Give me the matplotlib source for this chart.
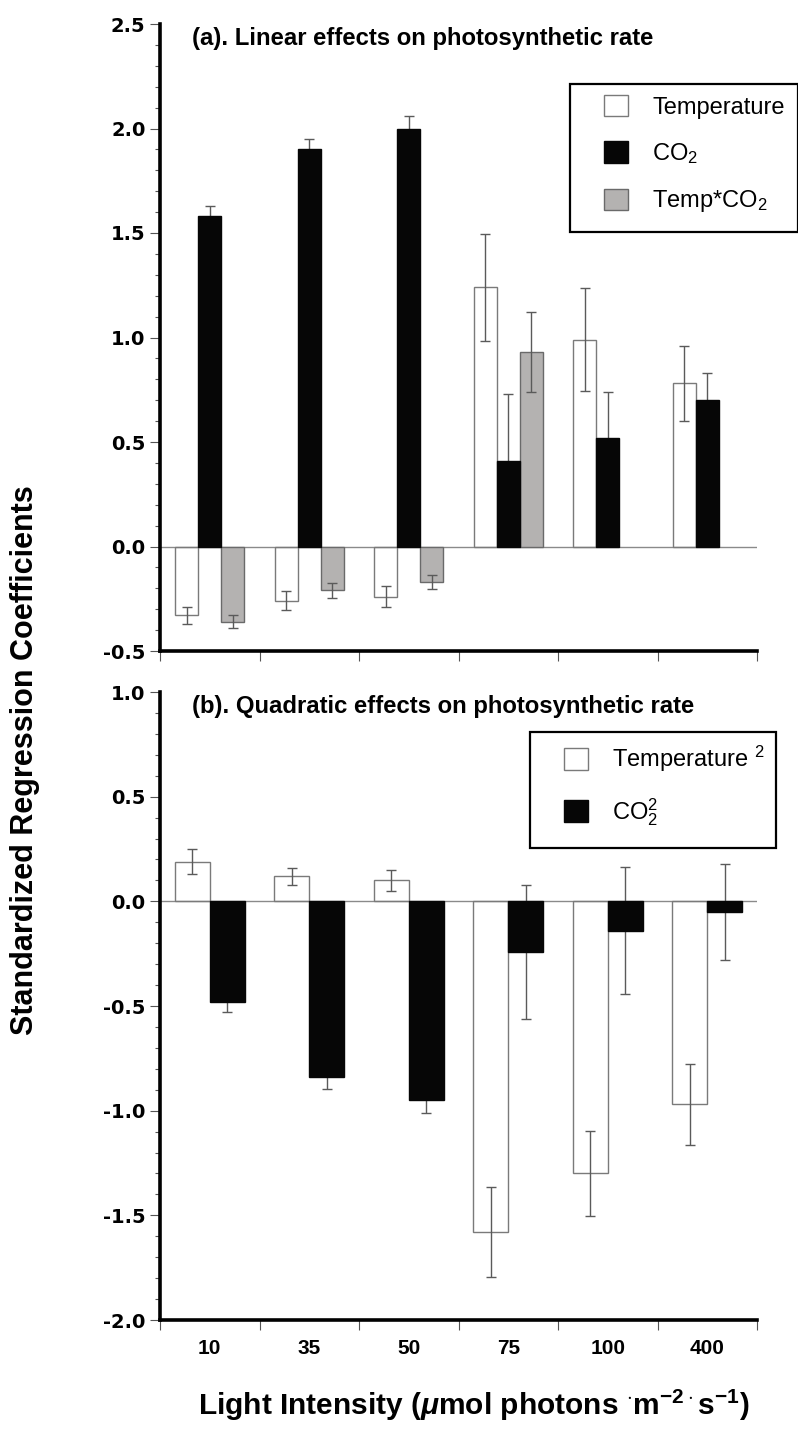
import numpy as np
import matplotlib
matplotlib.use('Agg')
import matplotlib.pyplot as plt
from matplotlib.patches import Patch, Rectangle
from matplotlib.ticker import MultipleLocator, FixedLocator, NullFormatter, FixedFormatter

# light intensities (umol photons m-2 s-1)
light = ['10', '35', '50', '75', '100', '400']

# (a) linear effects
temp_lin = [-0.33, -0.26, -0.24, 1.24, 0.99, 0.78]
temp_lin_err = [0.04, 0.045, 0.05, 0.255, 0.245, 0.18]
co2_lin = [1.58, 1.90, 2.00, 0.41, 0.52, 0.70]
co2_lin_err = [0.05, 0.05, 0.06, 0.32, 0.22, 0.13]
inter_lin = [-0.36, -0.21, -0.17, 0.93, np.nan, np.nan]
inter_lin_err = [0.03, 0.035, 0.035, 0.19, np.nan, np.nan]

# (b) quadratic effects
temp_quad = [0.19, 0.12, 0.10, -1.58, -1.30, -0.97]
temp_quad_err = [0.06, 0.04, 0.05, 0.215, 0.205, 0.195]
co2_quad = [-0.48, -0.84, -0.95, -0.24, -0.14, -0.05]
co2_quad_err = [0.05, 0.057, 0.06, 0.32, 0.305, 0.23]

plt.rcParams['font.family'] = ['Liberation Sans', 'DejaVu Sans']
plt.rcParams['mathtext.fontset'] = 'custom'
plt.rcParams['mathtext.rm'] = 'Liberation Sans:bold'
plt.rcParams['mathtext.it'] = 'Liberation Sans:bold:italic'
plt.rcParams['mathtext.bf'] = 'Liberation Sans:bold'
plt.rcParams['mathtext.sf'] = 'Liberation Sans'

W, H = 798, 1431
fig = plt.figure(figsize=(W / 100, H / 100), dpi=100)

def fx(px):
    return px / W

def fy(py):
    return 1 - py / H

left, right = 160, 757
ax1 = fig.add_axes([fx(left), fy(651), fx(right - left), fy(24) - fy(651)])
ax2 = fig.add_axes([fx(left), fy(1320), fx(right - left), fy(692) - fy(1320)])

x = np.arange(len(light))
BLACK = '#060606'
GRAY = '#b4b2b1'
ERR = '#5a5a5a'
ekw = dict(fmt='none', ecolor=ERR, elinewidth=1, capsize=3.5, capthick=1, zorder=3)

# panel (a)
w = 0.232
ax1.bar(x - w, temp_lin, w, facecolor='none', edgecolor='#7a7a7a', lw=1, zorder=2)
ax1.errorbar(x - w, temp_lin, yerr=temp_lin_err, **ekw)
ax1.bar(x, co2_lin, w, color=BLACK, edgecolor=BLACK, lw=1, zorder=4)
ax1.errorbar(x, co2_lin, yerr=co2_lin_err, **ekw)
ax1.bar(x + w, inter_lin, w, color=GRAY, edgecolor='#6a6a6a', lw=1, zorder=2)
ax1.errorbar(x + w, inter_lin, yerr=inter_lin_err, **ekw)
ax1.set_ylim(-0.5, 2.5)

# panel (b)
w2 = 0.35
ax2.bar(x - w2 / 2, temp_quad, w2, facecolor='none', edgecolor='#7a7a7a', lw=1, zorder=2)
ax2.errorbar(x - w2 / 2, temp_quad, yerr=temp_quad_err, **ekw)
ax2.bar(x + w2 / 2, co2_quad, w2, color=BLACK, edgecolor=BLACK, lw=1, zorder=4)
ax2.errorbar(x + w2 / 2, co2_quad, yerr=co2_quad_err, **ekw)
ax2.set_ylim(-2.0, 1.0)

for ax in (ax1, ax2):
    ax.set_xlim(-0.5, len(light) - 0.5)
    ax.axhline(0, color='#8a8a8a', lw=1, zorder=1)
    for s in ('top', 'right'):
        ax.spines[s].set_visible(False)
    for s in ('left', 'bottom'):
        ax.spines[s].set_linewidth(2.6)
        ax.spines[s].set_color('black')
    ax.yaxis.set_major_locator(MultipleLocator(0.5))
    ax.yaxis.set_minor_locator(MultipleLocator(0.1))
    ax.yaxis.set_major_formatter(plt.FuncFormatter(lambda v, p: '%.1f' % v))
    ax.tick_params(axis='y', which='major', length=7.5, width=0.8, color='#555',
                   labelsize=14, pad=3)
    ax.tick_params(axis='y', which='minor', length=3.8, width=0.8, color='#555')
    for t in ax.get_yticklabels():
        t.set_family('DejaVu Sans')
        t.set_fontweight('bold')
    # boundaries get the ticks, centres get the labels
    ax.xaxis.set_major_locator(FixedLocator(np.arange(-0.5, len(light), 1.0)))
    ax.xaxis.set_major_formatter(NullFormatter())
    ax.xaxis.set_minor_locator(FixedLocator(x))
    ax.tick_params(axis='x', which='major', length=7.5, width=0.8, color='#555')
    ax.tick_params(axis='x', which='minor', length=0, pad=14, labelsize=15)

ax1.xaxis.set_minor_formatter(NullFormatter())
ax2.xaxis.set_minor_formatter(FixedFormatter(light))
for t in ax2.get_xticklabels(minor=True):
    t.set_fontweight('bold')

ax1.text(0.054, 0.977, '(a). Linear effects on photosynthetic rate', transform=ax1.transAxes,
         ha='left', va='center', fontsize=17.2, fontweight='bold')
ax2.text(0.054, 0.977, '(b). Quadratic effects on photosynthetic rate', transform=ax2.transAxes,
         ha='left', va='center', fontsize=17.2, fontweight='bold')

# legends (frame drawn separately so the padding can match)
h1 = [Patch(facecolor='white', edgecolor='#7a7a7a', lw=1),
      Patch(facecolor=BLACK, edgecolor=BLACK),
      Patch(facecolor=GRAY, edgecolor='#6a6a6a', lw=1)]
lab1 = ['Temperature', r'CO$_\mathsf{2}$', r'Temp*CO$_\mathsf{2}$']
fig.legend(h1, lab1, loc='upper left', bbox_to_anchor=(fx(604), fy(95)),
           frameon=False, borderpad=0, borderaxespad=0, fontsize=17, handlelength=1.0,
           handleheight=1.0, handletextpad=1.05, labelspacing=0.95)
fig.add_artist(Rectangle((fx(570), fy(232)), fx(228), fy(84) - fy(232), transform=fig.transFigure,
                         fill=False, edgecolor='black', lw=1.6))

h2 = [Patch(facecolor='white', edgecolor='#7a7a7a', lw=1),
      Patch(facecolor=BLACK, edgecolor=BLACK)]
lab2 = [r'Temperature $^\mathsf{2}$', r'CO$_\mathsf{2}^\mathsf{2}$']
fig.legend(h2, lab2, loc='upper left', bbox_to_anchor=(fx(564), fy(744)),
           frameon=False, borderpad=0, borderaxespad=0, fontsize=17, handlelength=1.0,
           handleheight=1.0, handletextpad=1.05, labelspacing=0.92)
fig.add_artist(Rectangle((fx(530), fy(848)), fx(246), fy(732) - fy(848), transform=fig.transFigure,
                         fill=False, edgecolor='black', lw=1.6))

fig.text(fx(474), fy(1405), r'Light Intensity ($\mu$mol photons ${}^{\cdot}$m$^{-2\cdot}$s$^{-1}$)',
         ha='center', va='center', fontsize=21.5, fontweight='bold')
fig.text(fx(25), fy(760), 'Standardized Regression Coefficients', rotation=90,
         ha='center', va='center', fontsize=22, fontweight='bold')

fig.savefig('out.png', dpi=100)
